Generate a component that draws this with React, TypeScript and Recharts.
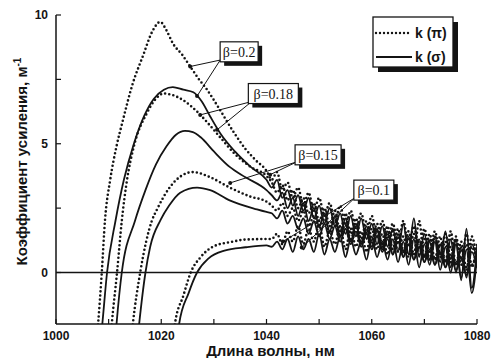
import React from 'react';
import { LineChart, Line, XAxis, YAxis, ReferenceLine, ReferenceDot, Label } from 'recharts';

const INK = '#141414';
const SANS = '"Liberation Sans", Arial, sans-serif';
const SERIF = '"Liberation Serif", "Times New Roman", serif';

// axis ticks
const xTicks = [1000, 1010, 1020, 1030, 1040, 1050, 1060, 1070, 1080];
const yTicks = [0, 2.5, 5, 7.5, 10];

// smooth part of each curve: [wavelength, gain]
const pi20Head = [
  [1007.6, -3], [1008, -2], [1008.7, 0], [1009.3, 2], [1010.3, 3.6], [1011.5, 4.9],
  [1012.7, 5.9], [1014.6, 7.35], [1016.5, 8.4], [1018.4, 9.4], [1019.8, 9.73], [1021, 9.4],
  [1022.2, 8.9], [1024, 8.45], [1025.5, 8.0], [1027, 7.55], [1028.7, 7.1], [1031.2, 6.3],
  [1033.6, 5.5], [1036, 4.8], [1038, 4.35], [1040, 3.95],
];
const sg20Head = [
  [1008.3, -3], [1008.8, -2], [1009.7, 0], [1011.3, 2], [1012.9, 3.6], [1014.8, 5.0],
  [1016.8, 6.1], [1018.6, 6.75], [1020.5, 7.1], [1022.2, 7.2], [1024.2, 7.1], [1026.1, 7.0],
  [1027.7, 6.64], [1029.3, 6.06], [1031.2, 5.41], [1034, 4.7], [1037, 4.1], [1040, 3.6],
];
const pi18Head = [
  [1010.2, -3], [1010.6, -2], [1011.6, 0], [1012.5, 2], [1013.5, 3.6], [1014.8, 4.9],
  [1017.3, 6.2], [1019, 6.75], [1020.5, 6.95], [1022, 6.9], [1024.1, 6.7], [1026.8, 6.25],
  [1029.3, 5.7], [1031.2, 5.25], [1034, 4.6], [1037, 4.1], [1040, 3.75],
];
const sg18Head = [
  [1011.1, -3], [1011.5, -2], [1012.5, 0], [1015, 2], [1017, 3.2], [1019, 4.2],
  [1021, 4.9], [1022.8, 5.35], [1024.5, 5.5], [1026, 5.45], [1027.5, 5.25], [1030, 4.7],
  [1033, 4.1], [1036, 3.7], [1040, 3.2],
];
const pi15Head = [
  [1014.1, -3], [1014.6, -2], [1016, 0], [1018.2, 2], [1019.2, 2.45], [1021.7, 3.33],
  [1023.8, 3.75], [1026, 3.9], [1029.3, 3.7], [1033, 3.3], [1036.9, 2.95], [1040, 2.75],
];
const sg15Head = [
  [1015.3, -3], [1015.8, -2], [1017, 0], [1017.9, 1.0], [1019.9, 2.05], [1021.5, 2.6],
  [1023.6, 3.1], [1026.8, 3.3], [1029.3, 3.2], [1033, 2.8], [1038.2, 2.45], [1040, 2.35],
];
const pi10Head = [
  [1022, -3], [1022.6, -2], [1024.2, -0.9], [1025.6, 0], [1027.5, 0.6], [1029.8, 1.0],
  [1033.6, 1.2], [1036, 1.28], [1040, 1.3],
];
const sg10Head = [
  [1023, -3], [1023.4, -2], [1025.2, -0.8], [1026.8, 0], [1029, 0.55], [1032, 0.85],
  [1036, 0.98], [1040, 1.05],
];

// noisy tail, 1041..1080 nm
const tailNm = [
  1041, 1042, 1043, 1044, 1045, 1046, 1047, 1048, 1049, 1050,
  1051, 1052, 1053, 1054, 1055, 1056, 1057, 1058, 1059, 1060,
  1061, 1062, 1063, 1064, 1065, 1066, 1067, 1068, 1069, 1070,
  1071, 1072, 1073, 1074, 1075, 1076, 1077, 1078, 1079, 1080,
];
const pi20Tail = [
  3.6, 3.9, 3.2, 3.5, 2.9, 3.3, 2.6, 3.1, 2.4, 2.9, 2.2, 2.7, 2.0, 2.6, 1.8, 2.4, 1.7, 2.3, 1.5, 2.2,
  1.4, 2.0, 1.3, 1.9, 1.1, 2.0, 1.0, 1.8, 0.9, 1.7, 0.8, 1.6, 0.7, 1.5, 0.5, 1.4, 0.3, 1.5, 0.2, 1.1,
];
const sg20Tail = [
  3.3, 3.6, 2.9, 3.2, 2.6, 3.0, 2.4, 2.9, 2.1, 2.6, 1.9, 2.5, 1.8, 2.3, 1.5, 2.2, 1.4, 2.1, 1.3, 1.9,
  1.1, 1.8, 1.0, 1.7, 0.8, 1.9, 0.7, 2.1, 0.6, 1.5, 0.5, 1.4, 0.4, 1.6, 0.2, 1.3, -0.3, 1.7, -0.6, 1.0,
];
const pi18Tail = [
  3.5, 3.1, 3.4, 2.8, 3.2, 2.5, 2.9, 2.3, 2.7, 2.0, 2.5, 1.8, 2.4, 1.6, 2.3, 1.5, 2.1, 1.3, 2.0, 1.2,
  1.9, 1.1, 1.8, 0.9, 1.7, 0.8, 1.6, 0.7, 2.0, 0.6, 1.5, 0.5, 1.4, 0.4, 1.6, 0.3, 1.2, 0.1, 1.4, 0.4,
];
const sg18Tail = [
  3.0, 2.8, 3.1, 2.5, 2.9, 2.2, 2.7, 2.0, 2.5, 1.8, 2.3, 1.6, 2.2, 1.4, 2.1, 1.2, 1.9, 1.1, 1.8, 1.0,
  1.7, 0.9, 1.6, 0.7, 1.5, 0.6, 1.4, 0.5, 1.3, 0.4, 1.2, 0.3, 1.1, 0.2, 1.3, 0.0, 1.0, -0.2, 1.1, 0.5,
];
const pi15Tail = [
  2.6, 2.4, 2.7, 2.2, 2.5, 2.0, 2.4, 1.8, 2.2, 1.7, 2.1, 1.5, 2.0, 1.4, 1.9, 1.3, 1.8, 1.2, 1.7, 1.1,
  1.6, 1.0, 1.5, 0.9, 1.4, 0.8, 1.3, 0.7, 1.2, 0.6, 1.3, 0.5, 1.1, 0.4, 1.0, 0.3, 0.9, 0.2, 1.0, 0.3,
];
const sg15Tail = [
  2.3, 2.1, 2.4, 1.9, 2.2, 1.7, 2.1, 1.5, 2.0, 1.4, 1.9, 1.3, 1.8, 1.2, 1.7, 1.1, 1.6, 1.0, 1.5, 0.9,
  1.4, 0.8, 1.3, 0.7, 1.2, 0.6, 1.1, 0.5, 1.0, 0.4, 0.9, 0.3, 0.8, 0.2, 0.7, 0.1, 0.6, -0.1, 0.8, 0.2,
];
const pi10Tail = [
  1.3, 1.5, 1.1, 1.6, 1.2, 1.8, 1.1, 1.7, 1.2, 1.9, 1.0, 1.6, 1.1, 1.8, 0.9, 1.7, 1.0, 1.6, 0.8, 1.7,
  0.9, 1.5, 0.7, 1.6, 0.8, 1.4, 0.6, 1.5, 0.7, 1.3, 0.5, 1.4, 0.6, 1.2, 0.4, 1.3, 0.5, 1.1, 0.3, 0.9,
];
const sg10Tail = [
  1.0, 1.2, 0.9, 1.3, 0.8, 1.4, 0.9, 1.3, 0.8, 1.5, 0.7, 1.3, 0.8, 1.4, 0.6, 1.3, 0.7, 1.2, 0.5, 1.4,
  0.6, 1.2, 0.5, 1.3, 0.4, 1.2, 0.3, 1.3, 0.2, 1.1, 0.3, 1.2, 0.1, 1.0, 0.0, 1.1, -0.2, 0.9, -0.8, 0.6,
];

const build = (head: number[][], tail: number[]) =>
  head.map(([x, y]) => ({ x, y })).concat(tail.map((y, i) => ({ x: tailNm[i], y })));

const series = [
  { key: 'pi20', dotted: true, data: build(pi20Head, pi20Tail) },
  { key: 'sg20', dotted: false, data: build(sg20Head, sg20Tail) },
  { key: 'pi18', dotted: true, data: build(pi18Head, pi18Tail) },
  { key: 'sg18', dotted: false, data: build(sg18Head, sg18Tail) },
  { key: 'pi15', dotted: true, data: build(pi15Head, pi15Tail) },
  { key: 'sg15', dotted: false, data: build(sg15Head, sg15Tail) },
  { key: 'pi10', dotted: true, data: build(pi10Head, pi10Tail) },
  { key: 'sg10', dotted: false, data: build(sg10Head, sg10Tail) },
];

// beta callouts (data coords)
const betaLabels = [
  { text: 'β=0.2', at: [1034.8, 8.57], from: [1031.2, 8.25], to: [[1025.5, 8.0], [1026.8, 6.85]] },
  { text: 'β=0.18', at: [1041.3, 6.95], from: [1037.2, 6.64], to: [[1027.4, 6.12], [1030.6, 5.54]] },
  { text: 'β=0.15', at: [1049.8, 4.57], from: [1045.8, 4.3], to: [[1033.1, 3.48], [1040.7, 3.8]] },
  { text: 'β=0.1', at: [1060.4, 3.2], from: [1056.8, 2.9], to: [[1043.1, 1.2], [1046.7, 0.97]] },
];
const boxW: Record<string, number> = { 'β=0.2': 38, 'β=0.18': 50, 'β=0.15': 46, 'β=0.1': 40 };

const tickStyle = { fill: INK, fontSize: 12, fontWeight: 700, fontFamily: SANS };
const axisLine = { stroke: INK, strokeWidth: 1.5 };
const tickLine = { stroke: INK, strokeWidth: 1.2 };

const XTitle = (props: any) => {
  const vb = props.viewBox;
  return (
    <text x={vb.x + vb.width / 2 + 4} y={356} textAnchor="middle" fill={INK}
      fontFamily={SANS} fontWeight={700} fontSize={15}>
      Длина волны, нм
    </text>
  );
};

const YTitle = (props: any) => {
  const vb = props.viewBox;
  const cx = 27;
  const cy = vb.y + vb.height / 2 - 8;
  return (
    <text transform={`rotate(-90 ${cx} ${cy})`} x={cx} y={cy} textAnchor="middle" fill={INK}
      fontFamily={SANS} fontWeight={700} fontSize={15}>
      Коэффициент усиления, м<tspan dy={-6} fontSize={10}>-1</tspan>
    </text>
  );
};

const BetaBox = (props: any) => {
  const { cx, cy, text } = props;
  const w = boxW[text];
  const h = 20;
  return (
    <g>
      <rect x={cx - w / 2 + 4} y={cy - h / 2 + 4} width={w} height={h} fill={INK} />
      <rect x={cx - w / 2} y={cy - h / 2} width={w} height={h} fill="#fff" stroke={INK} strokeWidth={1.2} />
      <text x={cx} y={cy + 5} textAnchor="middle" fill={INK} fontFamily={SERIF} fontSize={14}>{text}</text>
    </g>
  );
};

function LegendBox() {
  return (
    <svg width={95} height={62} style={{ position: 'absolute', left: 370, top: 14 }}>
      <rect x={8} y={8} width={80} height={50} fill={INK} />
      <rect x={3} y={3} width={80} height={50} fill="#fff" stroke={INK} strokeWidth={1.3} />
      <line x1={6} y1={19} x2={42} y2={19} stroke={INK} strokeWidth={2.4} strokeDasharray="0 4" strokeLinecap="round" />
      <text x={45} y={24} fill={INK} fontFamily={SANS} fontWeight={700} fontSize={14}>k (π)</text>
      <line x1={6} y1={43} x2={42} y2={43} stroke={INK} strokeWidth={1.8} />
      <text x={45} y={48} fill={INK} fontFamily={SANS} fontWeight={700} fontSize={14}>k (σ)</text>
    </svg>
  );
}

export default function App() {
  return (
    <div style={{ position: 'fixed', left: 0, top: 0, width: 492, height: 358, background: '#fff' }}>
      <LineChart width={492} height={358} margin={{ top: 15, right: 15, bottom: 0, left: 0 }}>
        <XAxis dataKey="x" type="number" domain={[1000, 1080]} ticks={xTicks} interval={0} allowDataOverflow
          tickFormatter={(v: number) => (v % 20 === 0 ? String(v) : '')}
          tickSize={-5} tickMargin={12} height={34}
          axisLine={axisLine} tickLine={tickLine} tick={tickStyle}>
          <Label content={XTitle} />
        </XAxis>
        <XAxis xAxisId="top" orientation="top" dataKey="x" type="number" domain={[1000, 1080]} ticks={xTicks}
          interval={0} allowDataOverflow tickFormatter={() => ''} tickSize={-5} height={0}
          axisLine={axisLine} tickLine={tickLine} />
        <YAxis type="number" domain={[-2, 10]} ticks={yTicks} interval={0} allowDataOverflow
          tickFormatter={(v: number) => (v % 5 === 0 ? String(v) : '')}
          tickSize={-5} tickMargin={13} width={56}
          axisLine={axisLine} tickLine={tickLine} tick={tickStyle}>
          <Label content={YTitle} />
        </YAxis>
        <YAxis yAxisId="right" orientation="right" type="number" domain={[-2, 10]} ticks={yTicks} interval={0}
          allowDataOverflow tickFormatter={() => ''} tickSize={-5} width={0}
          axisLine={axisLine} tickLine={tickLine} />

        <ReferenceLine y={0} stroke={INK} strokeWidth={1.5} />

        {series.map((s) => (
          <Line key={s.key} data={s.data} dataKey="y" type="monotone" stroke={INK}
            strokeWidth={s.dotted ? 2.6 : 1.8}
            strokeDasharray={s.dotted ? '0 4.2' : undefined}
            strokeLinecap="round" dot={false} activeDot={false} isAnimationActive={false} />
        ))}

        {betaLabels.map((b) =>
          b.to.map((t, i) => (
            <ReferenceLine key={b.text + i} segment={[{ x: b.from[0], y: b.from[1] }, { x: t[0], y: t[1] }]}
              stroke={INK} strokeWidth={1} />
          ))
        )}
        {betaLabels.map((b) =>
          b.to.map((t, i) => (
            <ReferenceDot key={b.text + 'd' + i} x={t[0]} y={t[1]} r={2} fill={INK} stroke="none" />
          ))
        )}
        {betaLabels.map((b) => (
          <ReferenceDot key={b.text} x={b.at[0]} y={b.at[1]} r={1}
            shape={(p: any) => <BetaBox {...p} text={b.text} />} />
        ))}
      </LineChart>
      <LegendBox />
    </div>
  );
}
